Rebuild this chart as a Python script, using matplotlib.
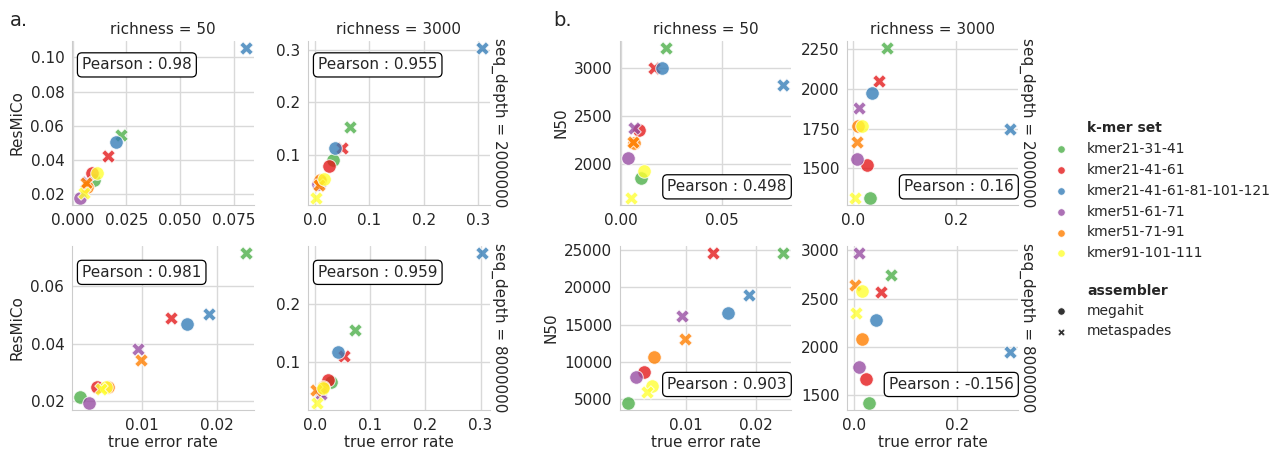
import matplotlib
matplotlib.use("Agg")
import matplotlib.pyplot as plt
from matplotlib.ticker import MultipleLocator
import seaborn as sns

sns.set_style("whitegrid")
plt.rcParams['font.family'] = ['DejaVu Sans']

kmers = ["kmer21-31-41", "kmer21-41-61", "kmer21-41-61-81-101-121",
         "kmer51-61-71", "kmer51-71-91", "kmer91-101-111"]
kmer_colors = ["#4daf4a", "#e41a1c", "#377eb8", "#984ea3", "#ff7f00", "#ffff33"]
assemblers = ["megahit", "metaspades"]
assembler_markers = ["o", "X"]
richness = [50, 3000]
seq_depth = [2000000, 8000000]

# true error rate, per (seq_depth, richness): megahit / metaspades, kmer order above
err_r50_d2m_mega = [0.010, 0.009, 0.0203, 0.0035, 0.0065, 0.0114]
err_r50_d2m_meta = [0.0223, 0.0165, 0.0806, 0.0068, 0.0063, 0.0051]
err_r3000_d2m_mega = [0.033, 0.026, 0.037, 0.0066, 0.0099, 0.0175]
err_r3000_d2m_meta = [0.065, 0.050, 0.306, 0.0105, 0.008, 0.003]
err_r50_d8m_mega = [0.0017, 0.0040, 0.0160, 0.0029, 0.0054, 0.0052]
err_r50_d8m_meta = [0.0239, 0.0139, 0.0190, 0.0094, 0.0099, 0.0045]
err_r3000_d8m_mega = [0.029, 0.023, 0.042, 0.0097, 0.015, 0.015]
err_r3000_d8m_meta = [0.072, 0.053, 0.302, 0.0097, 0.002, 0.0035]

# ResMiCo score
res_r50_d2m_mega = [0.028, 0.032, 0.0504, 0.0179, 0.024, 0.0323]
res_r50_d2m_meta = [0.0543, 0.0425, 0.1053, 0.027, 0.0262, 0.0203]
res_r3000_d2m_mega = [0.0905, 0.079, 0.113, 0.045, 0.052, 0.055]
res_r3000_d2m_meta = [0.152, 0.113, 0.302, 0.048, 0.043, 0.019]
res_r50_d8m_mega = [0.0215, 0.025, 0.047, 0.0196, 0.025, 0.0249]
res_r50_d8m_meta = [0.0714, 0.0489, 0.0503, 0.0382, 0.0344, 0.0244]
res_r3000_d8m_mega = [0.066, 0.070, 0.117, 0.050, 0.057, 0.056]
res_r3000_d8m_meta = [0.155, 0.110, 0.286, 0.045, 0.052, 0.031]

# N50
n50_r50_d2m_mega = [1850, 2353, 3000, 2056, 2215, 1921]
n50_r50_d2m_meta = [3200, 3000, 2823, 2374, 2232, 1650]
n50_r3000_d2m_mega = [1318, 1525, 1972, 1557, 1767, 1767]
n50_r3000_d2m_meta = [2252, 2048, 1746, 1879, 1667, 1318]
n50_r50_d8m_mega = [4540, 8700, 16500, 8000, 10700, 6700]
n50_r50_d8m_meta = [24550, 24550, 19000, 16100, 13100, 5900]
n50_r3000_d8m_mega = [1427, 1668, 2283, 1794, 2081, 2577]
n50_r3000_d8m_meta = [2738, 2570, 1948, 2965, 2640, 2350]

pearson_resmico = [["0.98", "0.955"], ["0.981", "0.959"]]
pearson_n50 = [["0.498", "0.16"], ["0.903", "-0.156"]]

err = [[(err_r50_d2m_mega, err_r50_d2m_meta), (err_r3000_d2m_mega, err_r3000_d2m_meta)],
       [(err_r50_d8m_mega, err_r50_d8m_meta), (err_r3000_d8m_mega, err_r3000_d8m_meta)]]
res = [[(res_r50_d2m_mega, res_r50_d2m_meta), (res_r3000_d2m_mega, res_r3000_d2m_meta)],
       [(res_r50_d8m_mega, res_r50_d8m_meta), (res_r3000_d8m_mega, res_r3000_d8m_meta)]]
n50 = [[(n50_r50_d2m_mega, n50_r50_d2m_meta), (n50_r3000_d2m_mega, n50_r3000_d2m_meta)],
       [(n50_r50_d8m_mega, n50_r50_d8m_meta), (n50_r3000_d8m_mega, n50_r3000_d8m_meta)]]

W, H = 1276, 451
fig = plt.figure(figsize=(W / 100, H / 100), dpi=100)


def add_ax(left, top, width, height):
    return fig.add_axes([left / W, 1 - (top + height) / H, width / W, height / H])


rows_top = [41, 246]
row_h = 164
FS = 11
LFS = 10


def draw_block(lefts, width, ydata, ylabel, pearson, text_pos, xsteps, ysteps):
    for r in range(2):
        for c in range(2):
            ax = add_ax(lefts[c], rows_top[r], width, row_h)
            for k in range(len(kmers)):
                for a in range(2):
                    ax.scatter(err[r][c][a][k], ydata[r][c][a][k], s=95,
                               color=kmer_colors[k], marker=assembler_markers[a],
                               alpha=0.8, edgecolor="white", linewidth=0.7)
            ax.xaxis.set_major_locator(MultipleLocator(xsteps[r][c]))
            ax.yaxis.set_major_locator(MultipleLocator(ysteps[r][c]))
            ax.tick_params(labelsize=FS, pad=2, colors=".15")
            for s in ["top", "right"]:
                ax.spines[s].set_visible(False)
            for s in ["left", "bottom"]:
                ax.spines[s].set_color(".8")
            ax.grid(color=".85", linewidth=1)
            if r == 0:
                ax.set_title(f"richness = {richness[c]}", fontsize=FS, pad=5, color=".15")
            if c == 0:
                ax.set_ylabel(ylabel, fontsize=FS, color=".15")
            if r == 1:
                ax.set_xlabel("true error rate", fontsize=FS, color=".15", labelpad=2)
            if c == 1:
                ax.annotate(f"seq_depth = {seq_depth[r]}", xy=(1.005, 0.5),
                            xycoords="axes fraction", rotation=270,
                            ha="left", va="center", fontsize=FS, color=".15")
            tx, ty, ha, va = text_pos[r]
            ax.text(tx, ty, f"Pearson : {pearson[r][c]}", transform=ax.transAxes,
                    ha=ha, va=va, fontsize=FS, color=".15",
                    bbox=dict(boxstyle="round,pad=0.3", fc="white", ec="black", lw=0.9))


draw_block([72, 308], 182, res, "ResMiCo", pearson_resmico,
           [(0.055, 0.9, "left", "top"), (0.055, 0.885, "left", "top")],
           [[0.025, 0.1], [0.01, 0.1]], [[0.02, 0.1], [0.02, 0.1]])
draw_block([620, 847], 171, n50, "N50", pearson_n50,
           [(0.975, 0.065, "right", "bottom"), (0.975, 0.11, "right", "bottom")],
           [[0.05, 0.2], [0.01, 0.2]], [[500, 250], [5000, 500]])

fig.text(10 / W, 1 - 20 / H, "a.", fontsize=14, va="center", ha="left")
fig.text(553 / W, 1 - 20 / H, "b.", fontsize=14, va="center", ha="left")

# legend
lg = fig.add_axes([0, 0, 1, 1])
lg.set_xlim(0, W)
lg.set_ylim(H, 0)
lg.axis("off")
lg.text(1087, 128, "k-mer set", fontweight="bold", fontsize=LFS, va="center", color=".15")
for k, name in enumerate(kmers):
    y = 149.3 + k * 20.8
    lg.scatter(1061, y, s=28, color=kmer_colors[k], alpha=0.8, edgecolor="white", linewidth=0.5)
    lg.text(1087, y, name, fontsize=LFS, va="center", color=".15")
lg.text(1087, 291, "assembler", fontweight="bold", fontsize=LFS, va="center", color=".15")
for a, name in enumerate(assemblers):
    y = 311 + a * 20.5
    lg.scatter(1061, y, s=28, color=".2", marker=assembler_markers[a], edgecolor="white", linewidth=0.5)
    lg.text(1087, y, name, fontsize=LFS, va="center", color=".15")

fig.savefig("out.png", dpi=100)
